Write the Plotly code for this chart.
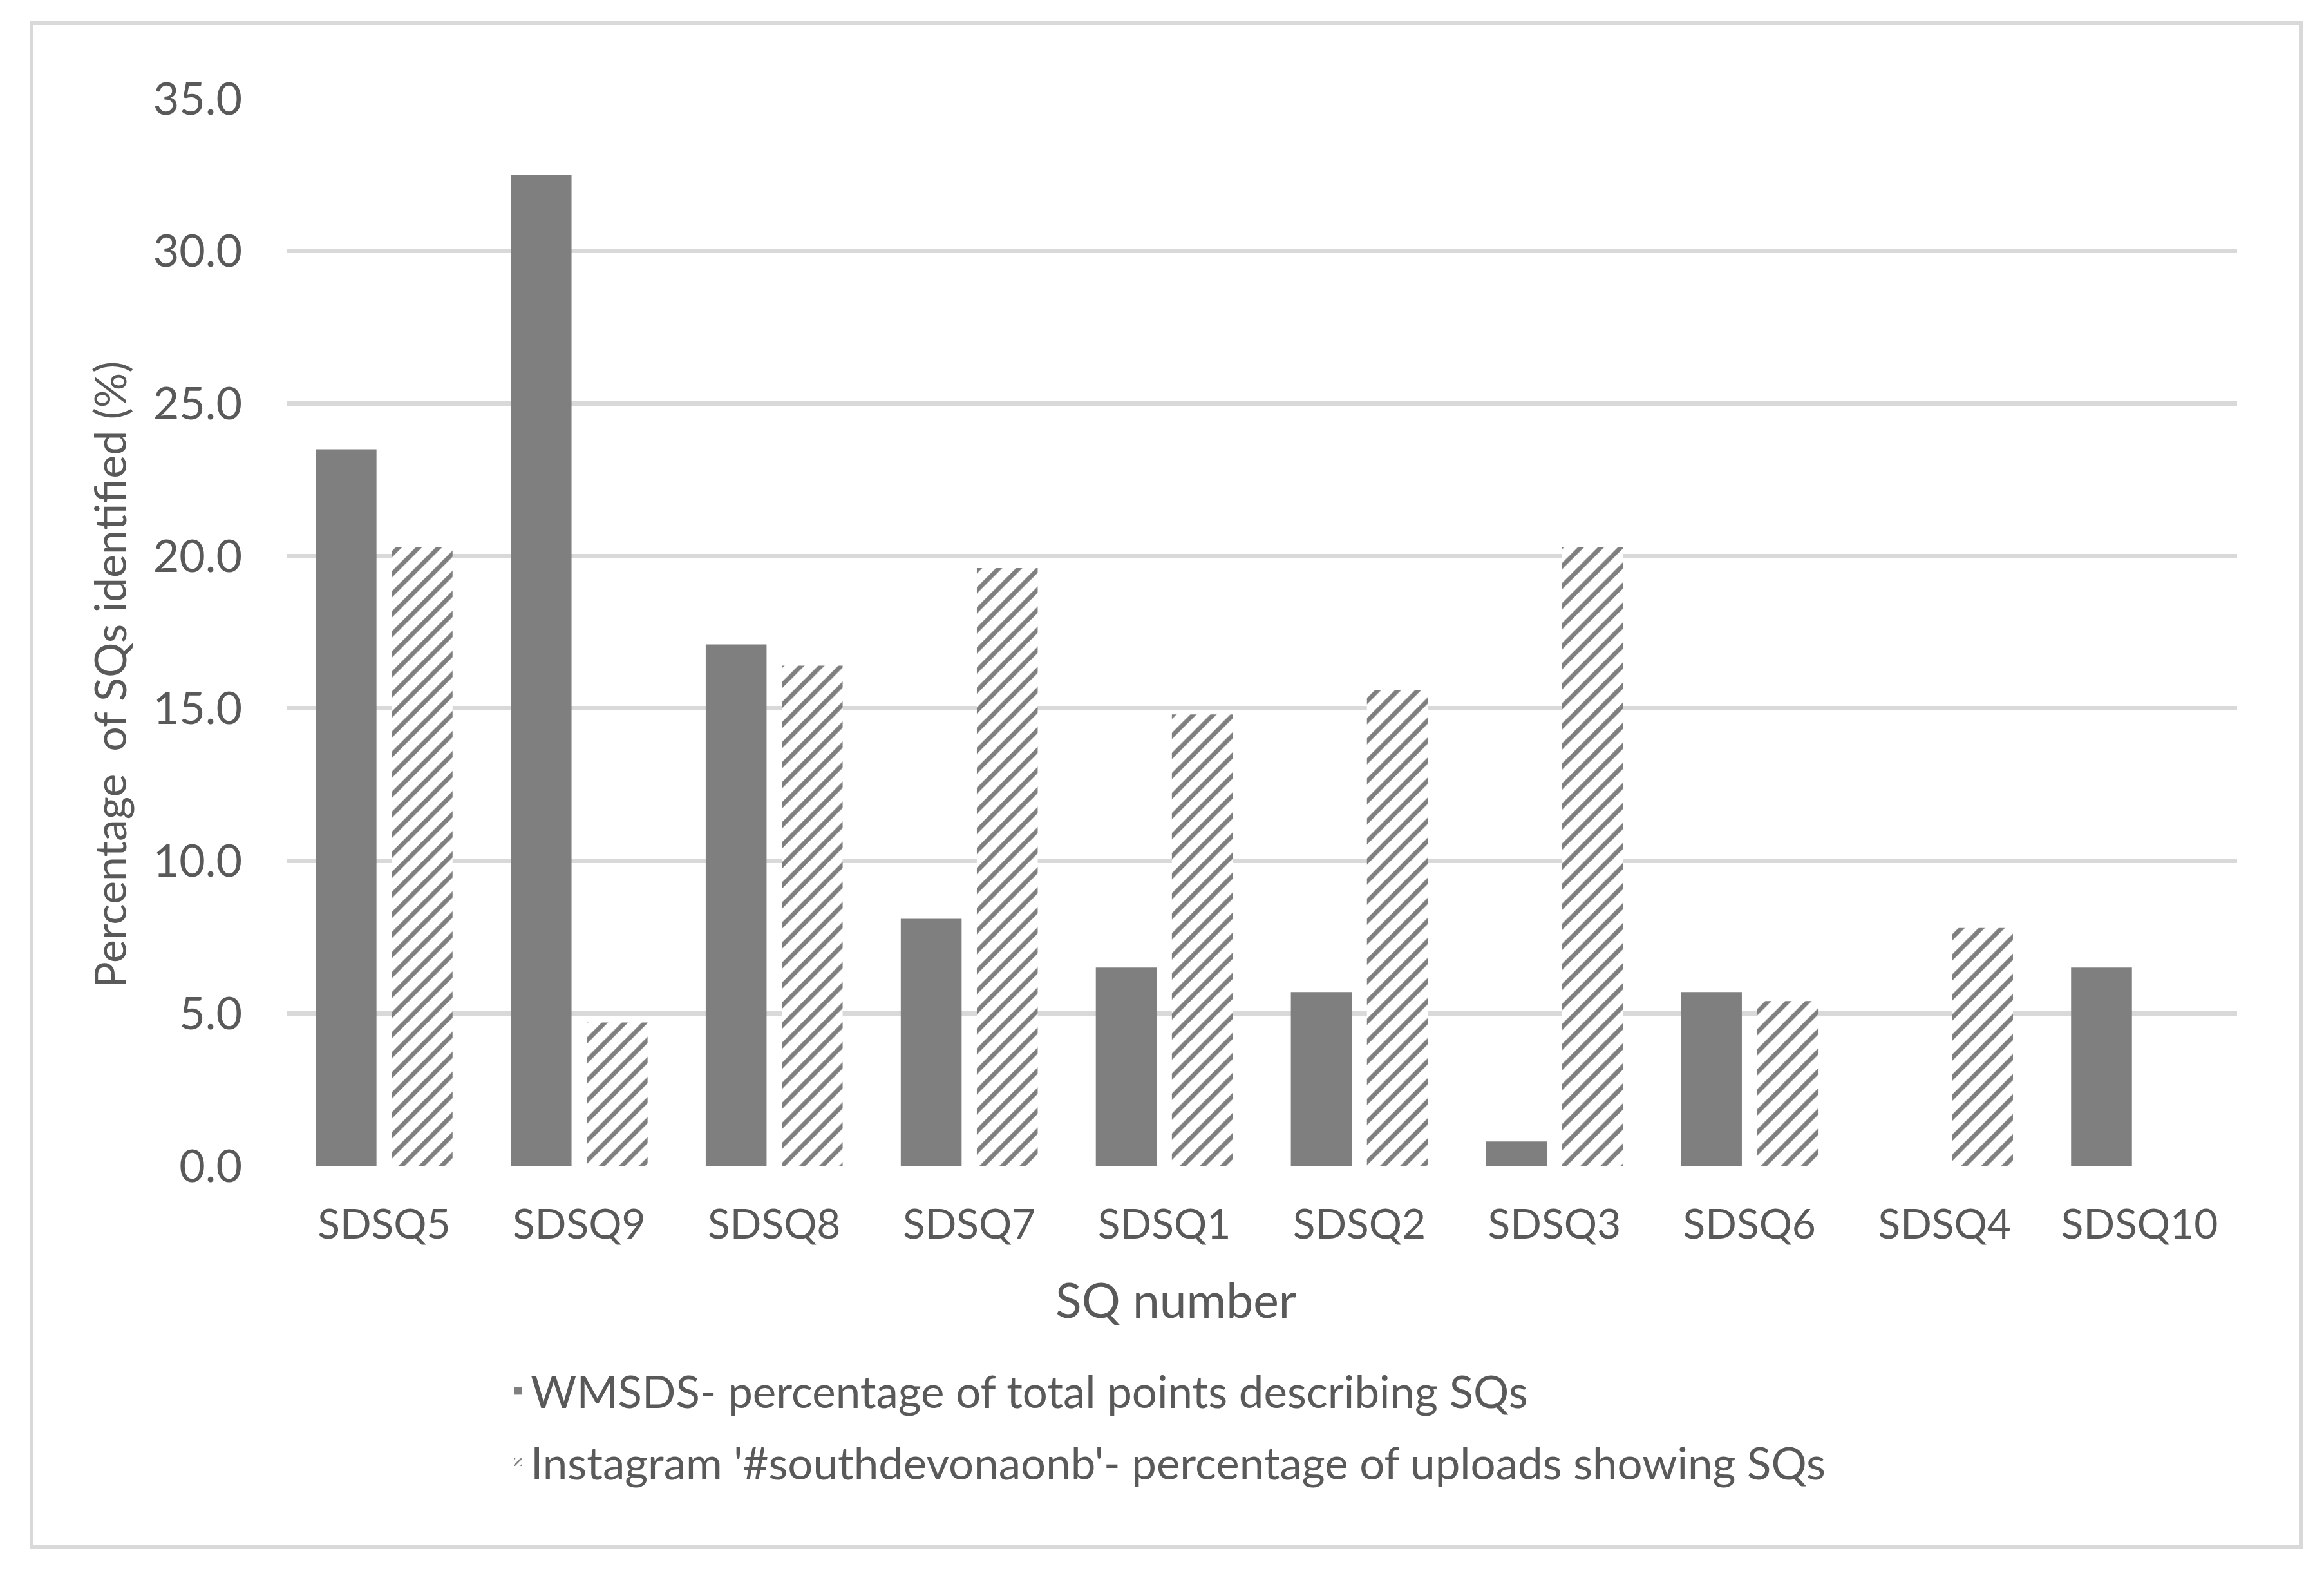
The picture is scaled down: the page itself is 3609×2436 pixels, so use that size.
import plotly.graph_objects as go

categories = ["SDSQ5", "SDSQ9", "SDSQ8", "SDSQ7", "SDSQ1", "SDSQ2", "SDSQ3", "SDSQ6", "SDSQ4", "SDSQ10"]
wmsds_values = [23.5, 32.5, 17.1, 8.1, 6.5, 5.7, 0.8, 5.7, 0.0, 6.5]
instagram_values = [20.3, 4.7, 16.4, 19.6, 14.8, 15.6, 20.3, 5.4, 7.8, 0.0]
series_names = [
    "WMSDS- percentage of total points describing SQs",
    "Instagram '#southdevonaonb'- percentage of uploads showing SQs",
]
y_ticks = [0, 5, 10, 15, 20, 25, 30, 35]
y_tick_labels = ["0.0", "5.0", "10.0", "15.0", "20.0", "25.0", "30.0", "35.0"]
x_title = "SQ number"
y_title = "Percentage  of SQs identified (%)"

FONT = "Lato"
TEXT = "#595959"
GRID = "#D9D9D9"

fig = go.Figure()
fig.add_trace(go.Bar(
    x=categories, y=wmsds_values, name=series_names[0],
    marker=dict(color="#7F7F7F", line=dict(width=0)),
    legendgroup="a",
))
fig.add_trace(go.Bar(
    x=categories, y=instagram_values, name=series_names[1],
    marker=dict(color="white", line=dict(width=0),
                pattern=dict(shape="/", fgcolor="black", bgcolor="white",
                             size=22, solidity=0.32, fillmode="overlay")),
    legendgroup="b",
))

W, H = 3609, 2436
L, R, T, B = 437, 143, 145, 634
pw, ph = W - L - R, H - T - B

def px_x(v):
    return (v - L) / pw

def px_y(v):
    return (H - B - v) / ph

fig.add_shape(type="rect", xref="paper", yref="paper",
              x0=px_x(41), x1=px_x(3565), y0=px_y(2394), y1=px_y(28),
              line=dict(color=GRID, width=6), fillcolor="rgba(0,0,0,0)", layer="below")

fig.add_annotation(text=y_title, xref="paper", yref="paper",
                   x=px_x(161), y=px_y(1040), textangle=-90, showarrow=False,
                   xanchor="center", yanchor="middle",
                   font=dict(family=FONT, size=68, color=TEXT))
fig.add_annotation(text=x_title, xref="paper", yref="paper",
                   x=px_x(1818), y=px_y(2009), showarrow=False,
                   xanchor="center", yanchor="middle",
                   font=dict(family=FONT, size=75, color=TEXT))

fig.update_layout(
    width=W, height=H,
    margin=dict(l=L, r=R, t=T, b=B, autoexpand=False),
    paper_bgcolor="white", plot_bgcolor="white",
    font=dict(family=FONT, color=TEXT, size=64),
    barmode="group", bargap=0.22, bargroupgap=0.2,
    showlegend=True,
    legend=dict(
        orientation="v", x=px_x(776), y=px_y(2100), xanchor="left", yanchor="top",
        font=dict(family=FONT, size=69, color=TEXT),
        tracegroupgap=18, bgcolor="rgba(0,0,0,0)",
    ),
    xaxis=dict(
        showgrid=False, showline=False, zeroline=False, ticks="",
        tickfont=dict(family=FONT, size=64, color=TEXT),
        ticklabelstandoff=48,
    ),
    yaxis=dict(
        range=[0, 35], tickvals=y_ticks, ticktext=y_tick_labels,
        showgrid=True, gridcolor=GRID, gridwidth=7, zeroline=False, showline=False, ticks="",
        tickfont=dict(family=FONT, size=70, color=TEXT),
        ticklabelstandoff=68,
    ),
)

fig.write_html("out.html")
